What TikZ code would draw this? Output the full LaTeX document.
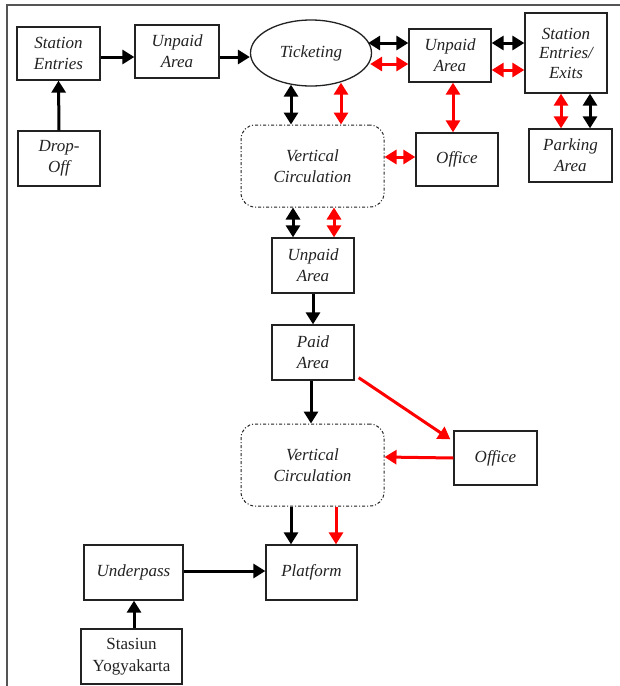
\documentclass[tikz,border=0pt]{standalone}
\usepackage{fontspec}
\setmainfont{Liberation Serif}[Ligatures=TeX]
\newfontfamily\labelfont{Liberation Serif}
\usetikzlibrary{arrows.meta,shapes.geometric}
\definecolor{frame}{HTML}{555555}
\definecolor{ink}{HTML}{222222}
\definecolor{flowred}{HTML}{FF0000}
\tikzset{
  box/.style={draw=ink, line width=1.3pt, inner sep=0pt, align=center,
    font=\labelfont\fontsize{17}{21}\selectfont\itshape, text=ink},
  plainbox/.style={box, font=\labelfont\fontsize{17}{21.5}\selectfont\upshape},
  vcbox/.style={box, draw=ink, line width=1pt, dash dot, rounded corners=14pt},
  oval/.style={box, ellipse},
  tip/.tip={Triangle[length=12pt,width=14pt]},
  blk/.style={line width=3pt, -tip},
  blkbi/.style={line width=3pt, tip-tip},
  red/.style={line width=3pt, draw=flowred, -tip},
  redbi/.style={line width=3pt, draw=flowred, tip-tip},
}
\begin{document}
\begin{tikzpicture}[x=1pt,y=-1pt]
\useasboundingbox (0,0) rectangle (620,686);
% page frame
\draw[frame, line width=1.6pt] (620,5) -- (7,5) -- (7,686);

% upper level
\node[box, minimum width=83pt, minimum height=53pt] (se) at (58.5,53.5) {Station\\Entries};
\node[box, minimum width=84pt, minimum height=53pt] (ua1) at (177,51.5) {Unpaid\\Area};
\node[oval, minimum width=121pt, minimum height=66pt] (tick) at (311,53) {Ticketing};
\node[box, minimum width=82pt, minimum height=53pt] (ua2) at (450,55.5) {Unpaid\\Area};
\node[box, minimum width=82pt, minimum height=80pt, font=\labelfont\fontsize{17}{19.5}\selectfont\itshape] (see) at (566,53) {Station\\Entries/\\Exits};
\node[box, minimum width=82pt, minimum height=55pt] (drop) at (59,158.5) {Drop-\\Off};
\node[vcbox, minimum width=143pt, minimum height=82pt] (vc1) at (312.5,166) {Vertical\\Circulation};
\node[box, minimum width=82pt, minimum height=53pt] (off1) at (457,159.5) {Office};
\node[box, minimum width=83pt, minimum height=53pt] (park) at (570.5,155.5) {Parking\\Area};

% middle level
\node[box, minimum width=82pt, minimum height=55pt] (ua3) at (313,265.5) {Unpaid\\Area};
\node[box, minimum width=82pt, minimum height=55pt] (paid) at (313,352.5) {Paid\\Area};
\node[vcbox, minimum width=143pt, minimum height=82pt] (vc2) at (312.5,465) {Vertical\\Circulation};
\node[box, minimum width=83pt, minimum height=54pt] (off2) at (495.5,458) {Office};

% platform level
\node[box, minimum width=99pt, minimum height=55pt] (under) at (133.5,572.5) {Underpass};
\node[box, minimum width=91pt, minimum height=55pt] (plat) at (311.5,572.5) {Platform};
\node[plainbox, minimum width=101pt, minimum height=55pt] (stas) at (131.5,656.5) {Stasiun\\Yogyakarta};

% lanes for parallel connectors
\coordinate (xa) at (291,0);
\coordinate (xb) at (341,0);
\coordinate (xc) at (453,0);
\coordinate (xd) at (561,0);
\coordinate (xe) at (590,0);
\coordinate (xf) at (293,0);
\coordinate (xg) at (334,0);
\coordinate (xh) at (291,0);
\coordinate (xi) at (336,0);
\coordinate (xj) at (311,0);
\coordinate (ya) at (0,43);
\coordinate (yb) at (0,64);
\coordinate (yc) at (0,70);

% entrance flow
\draw[blk] (drop.north) -- (se.south);
\draw[blk] (se.east |- 0,57) -- (ua1.west |- 0,57);
\draw[blk] (ua1.east |- 0,57) -- (tick.west |- 0,57);

% ticketing hall
\draw[blkbi] (tick.east |- ya) ++(-4,0) -- (ua2.west |- ya);
\draw[redbi] (tick.east |- yb) ++(-2,0) -- (ua2.west |- yb);
\draw[blkbi] (ua2.east |- ya) -- (see.west |- ya);
\draw[redbi] (ua2.east |- yc) -- (see.west |- yc);
\draw[blkbi] (tick.south -| xa) ++(0,-2) -- (vc1.north -| xa);
\draw[redbi] (tick.south -| xb) ++(0,-4) -- (vc1.north -| xb);
\draw[redbi] (ua2.south -| xc) -- (off1.north -| xc);
\draw[redbi] (see.south -| xd) -- (park.north -| xd);
\draw[blkbi] (see.south -| xe) -- (park.north -| xe);
\draw[redbi] (vc1.east |- 0,157) -- (off1.west |- 0,157);

% down to the concourse
\draw[blkbi] (vc1.south -| xf) -- (ua3.north -| xf);
\draw[redbi] (vc1.south -| xg) -- (ua3.north -| xg);
\draw[blk] (ua3.south) -- (paid.north);
\draw[blk] (paid.south -| xj) -- (vc2.north -| xj);
\draw[red] ([xshift=4pt,yshift=3pt]paid.south east) -- ([xshift=-3pt,yshift=-9pt]off2.north west);
\draw[red] (off2.west) -- (vc2.east |- 0,457);

% platform
\draw[blk] (vc2.south -| xh) -- (plat.north -| xh);
\draw[red] (vc2.south -| xi) -- (plat.north -| xi);
\draw[blk] (under.east |- 0,571) -- (plat.west |- 0,571);
\draw[blk] (stas.north -| 134,0) -- (under.south -| 134,0);
\end{tikzpicture}
\end{document}
